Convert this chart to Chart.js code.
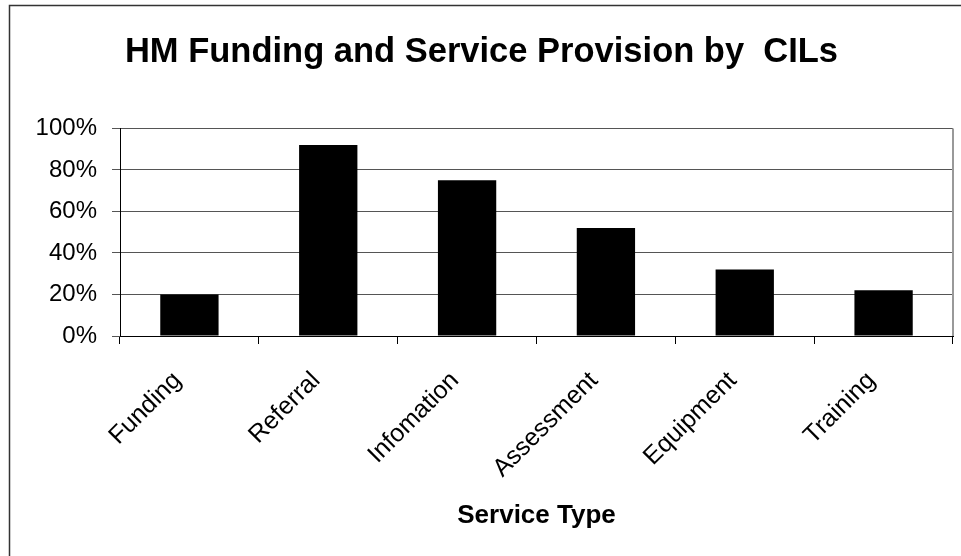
<!DOCTYPE html>
<html><head><meta charset="utf-8">
<script src="https://cdn.jsdelivr.net/npm/chart.js@4"></script>
<style>html,body{margin:0;padding:0;background:#fff}#wrap{width:961px;height:556px}</style>
</head><body><div id="wrap"><canvas id="c" width="961" height="556"></canvas></div>
<script>
const categories = ['Funding', 'Referral', 'Infomation', 'Assessment', 'Equipment', 'Training'];
const values = [20, 92, 75, 52, 32, 22];
const yTickValues = [0, 20, 40, 60, 80, 100];
const chartTitle = 'HM Funding and Service Provision by  CILs';
const xAxisTitle = 'Service Type';

const FONT = "'Liberation Sans', Arial, sans-serif";

const framePlugin = {
  id: 'frame',
  beforeDraw(chart) {
    const ctx = chart.ctx;
    ctx.save();
    ctx.fillStyle = '#fff';
    ctx.fillRect(0, 0, chart.width, chart.height);
    ctx.restore();
  },
  afterDraw(chart) {
    const ctx = chart.ctx, a = chart.chartArea;
    ctx.save();
    ctx.strokeStyle = '#333';
    ctx.lineWidth = 1.5;
    ctx.beginPath();
    ctx.moveTo(9.5, chart.height);
    ctx.lineTo(9.5, 5.5);
    ctx.lineTo(chart.width, 5.5);
    ctx.stroke();
    ctx.strokeStyle = '#999';
    ctx.lineWidth = 2;
    ctx.beginPath();
    ctx.moveTo(a.right, a.top);
    ctx.lineTo(a.right, a.bottom);
    ctx.stroke();
    ctx.restore();
  }
};

new Chart(document.getElementById('c'), {
  type: 'bar',
  data: {
    labels: categories,
    datasets: [{
      data: values,
      backgroundColor: '#000',
      borderColor: '#000',
      borderWidth: 0,
      categoryPercentage: 1.0,
      barPercentage: 0.42
    }]
  },
  options: {
    responsive: false,
    animation: false,
    devicePixelRatio: 1,
    layout: { padding: { left: 10, right: 8, top: 0, bottom: 25 } },
    plugins: {
      legend: { display: false },
      tooltip: { enabled: false },
      title: {
        display: true,
        text: chartTitle,
        color: '#000',
        font: { family: FONT, size: 34.5, weight: 'bold' },
        padding: { top: 32, bottom: 55 }
      }
    },
    scales: {
      x: {
        afterFit(s) { s.height = 195; },
        grid: { display: true, drawOnChartArea: false, drawTicks: true, tickLength: 8, color: '#000', offset: true },
        border: { display: true, color: '#000', width: 1 },
        ticks: { color: '#000', font: { family: FONT, size: 25 }, minRotation: 45, maxRotation: 45, padding: 22, labelOffset: -12, autoSkip: false },
        title: { display: true, text: xAxisTitle, color: '#000', font: { family: FONT, size: 26, weight: 'bold' }, padding: { top: 0, bottom: 0 } }
      },
      y: {
        min: 0,
        max: 100,
        afterFit(s) { s.width = 110; },
        afterBuildTicks(s) { s.ticks = yTickValues.map(v => ({ value: v })); },
        grid: { color: '#555', lineWidth: 1, drawTicks: true, tickLength: 8 },
        border: { display: true, color: '#000', width: 1 },
        ticks: { color: '#000', font: { family: FONT, size: 24 }, padding: 15, callback: v => v + '%' }
      }
    }
  },
  plugins: [framePlugin]
});
</script>
</body></html>
